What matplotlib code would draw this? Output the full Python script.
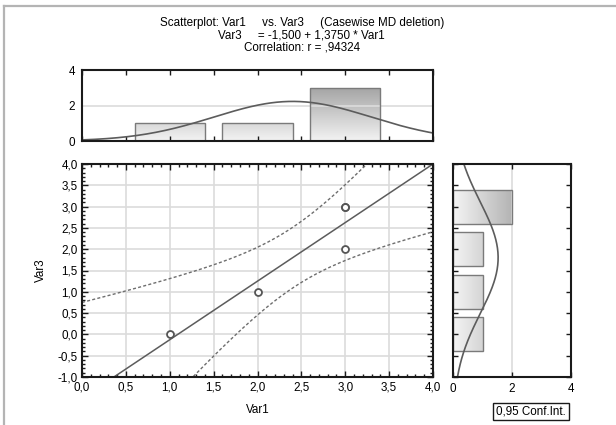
import numpy as np
import matplotlib
matplotlib.use("Agg")
import matplotlib.pyplot as plt
from matplotlib.ticker import FuncFormatter, MultipleLocator, FixedLocator
from matplotlib.lines import Line2D

plt.rcParams['font.family'] = ['Liberation Sans', 'DejaVu Sans']
FS = 8.4
plt.rcParams['font.size'] = FS

# ---- data ----
var1 = np.array([1, 2, 3, 3, 3], dtype=float)
var3 = np.array([0, 1, 2, 3, 3], dtype=float)
t975_df3 = 3.182446  # Student t quantile, df = n-2
title_lines = ["Scatterplot: Var1     vs. Var3     (Casewise MD deletion)",
               "Var3     = -1,500 + 1,3750 * Var1",
               "Correlation: r = ,94324"]
conf_label = "0,95 Conf.Int."

# ---- stats ----
n = len(var1)
mx, my = var1.mean(), var3.mean()
sxx = ((var1 - mx) ** 2).sum()
sxy = ((var1 - mx) * (var3 - my)).sum()
slope = sxy / sxx
icpt = my - slope * mx
resid = var3 - (icpt + slope * var1)
s = np.sqrt((resid ** 2).sum() / (n - 2))

W, H = 616, 425
fig = plt.figure(figsize=(W / 100, H / 100), dpi=100)

def rect(l, r, t, b):
    return [l / W, 1 - b / H, (r - l) / W, (b - t) / H]

ax = fig.add_axes(rect(82, 433, 164, 377))
axt = fig.add_axes(rect(82, 433, 70, 141))
axr = fig.add_axes(rect(453, 571, 164, 377))

line_c = '#5c5c5c'
grid_c = '#dcdcdc'
spine_c = '#1a1a1a'
comma = FuncFormatter(lambda v, p: f"{v:.1f}".replace('.', ','))

# ---- main scatter ----
ax.set_xlim(0, 4)
ax.set_ylim(-1, 4)
ax.xaxis.set_major_locator(MultipleLocator(0.5))
ax.yaxis.set_major_locator(MultipleLocator(0.5))
ax.xaxis.set_minor_locator(MultipleLocator(0.1))
ax.yaxis.set_minor_locator(MultipleLocator(0.1))
ax.xaxis.set_major_formatter(comma)
ax.yaxis.set_major_formatter(comma)
ax.grid(True, which='major', color=grid_c, lw=1.2, zorder=0)
ax.tick_params(which='both', direction='in', top=True, right=True, color=spine_c, labelsize=FS, pad=3)
ax.tick_params(which='major', length=4, width=1)
ax.tick_params(which='minor', length=2.5, width=1)
xx = np.linspace(0, 4, 300)
fit = icpt + slope * xx
se = s * np.sqrt(1 / n + (xx - mx) ** 2 / sxx)
ax.plot(xx, fit, color=line_c, lw=1.1, zorder=3)
ax.plot(xx, fit + t975_df3 * se, color='#6e6e6e', lw=1.0, ls=(0, (2.2, 1.6)), zorder=3)
ax.plot(xx, fit - t975_df3 * se, color='#6e6e6e', lw=1.0, ls=(0, (2.2, 1.6)), zorder=3)
ax.plot(var1, var3, 'o', mfc='white', mec='#555555', mew=1.3, ms=5, zorder=4)
ax.set_xlabel("Var1", fontsize=FS, labelpad=8)
ax.set_ylabel("Var3", fontsize=FS, labelpad=8)

def gradient_bars(a, bars, vertical, extent, c_lo, c_hi):
    g = np.linspace(0, 1, 256)
    c0 = np.array(matplotlib.colors.to_rgb(c_lo))
    c1 = np.array(matplotlib.colors.to_rgb(c_hi))
    cols = c0[None, :] * (1 - g[:, None]) + c1[None, :] * g[:, None]
    if vertical:
        img = cols[::-1][:, None, :]
    else:
        img = cols[None, :, :]
    for b in bars:
        im = a.imshow(img, extent=extent, aspect='auto', origin='upper', zorder=1.5, interpolation='bilinear')
        im.set_clip_path(b)

# ---- top histogram ----
vals1, cnt1 = np.unique(var1, return_counts=True)
bars_t = axt.bar(vals1, cnt1, width=0.8, facecolor='none', edgecolor='#7a7a7a', lw=1.0, zorder=2)
gradient_bars(axt, bars_t, True, [0, 4, 0, 3], '#f3f3f3', '#a4a4a4')
axt.set_xlim(0, 4)
axt.set_ylim(0, 4)
gx = np.linspace(0, 4, 300)
sdx = np.std(var1, ddof=1)
axt.plot(gx, n * np.exp(-0.5 * ((gx - mx) / sdx) ** 2) / (sdx * np.sqrt(2 * np.pi)),
         color=line_c, lw=1.2, zorder=3)
axt.xaxis.set_major_locator(MultipleLocator(0.5))
axt.yaxis.set_major_locator(FixedLocator([0, 2, 4]))
axt.tick_params(axis='x', direction='in', top=True, bottom=True, labelbottom=False, length=3.5, width=1, color=spine_c)
axt.tick_params(axis='y', length=0, labelsize=FS, pad=5)
axt.grid(True, axis='y', color=grid_c, lw=1.2, zorder=0)

# ---- right histogram ----
vals3, cnt3 = np.unique(var3, return_counts=True)
bars_r = axr.barh(vals3, cnt3, height=0.8, facecolor='none', edgecolor='#7a7a7a', lw=1.0, zorder=2)
gradient_bars(axr, bars_r, False, [0, 2, -1, 4], '#f5f5f5', '#b4b4b4')
axr.set_xlim(0, 4)
axr.set_ylim(-1, 4)
gy = np.linspace(-1, 4, 300)
sdy = np.std(var3, ddof=1)
axr.plot(n * np.exp(-0.5 * ((gy - my) / sdy) ** 2) / (sdy * np.sqrt(2 * np.pi)), gy, color=line_c, lw=1.2, zorder=3)
axr.yaxis.set_major_locator(MultipleLocator(0.5))
axr.xaxis.set_major_locator(FixedLocator([0, 2, 4]))
axr.tick_params(axis='y', direction='in', left=True, right=True, labelleft=False, length=3.5, width=1, color=spine_c)
axr.tick_params(axis='x', direction='in', top=True, bottom=True, length=3.5, width=1, color=spine_c, labelsize=FS, pad=4)
axr.grid(True, axis='x', color=grid_c, lw=1.2, zorder=0)

for a in (ax, axt, axr):
    for sp in a.spines.values():
        sp.set_color(spine_c)
        sp.set_linewidth(1.5)
        sp.set_zorder(5)

# ---- titles / legend ----
for i, t in enumerate(title_lines):
    fig.text(0.49, 1 - (23 + 12.5 * i) / H, t, ha='center', va='center', fontsize=FS)
fig.text(531 / W, 1 - 411.5 / H, conf_label, ha='center', va='center', fontsize=FS,
         bbox=dict(boxstyle='square,pad=0.25', fc='white', ec='#1a1a1a', lw=1.0))

# frame lines (left and top)
fig.add_artist(Line2D([3.5 / W, 3.5 / W], [0, 1 - 6 / H], color='#b4b4b4', lw=1.6, transform=fig.transFigure))
fig.add_artist(Line2D([3.5 / W, 1], [1 - 6 / H, 1 - 6 / H], color='#b4b4b4', lw=1.6, transform=fig.transFigure))

fig.savefig("out.png", dpi=100)
